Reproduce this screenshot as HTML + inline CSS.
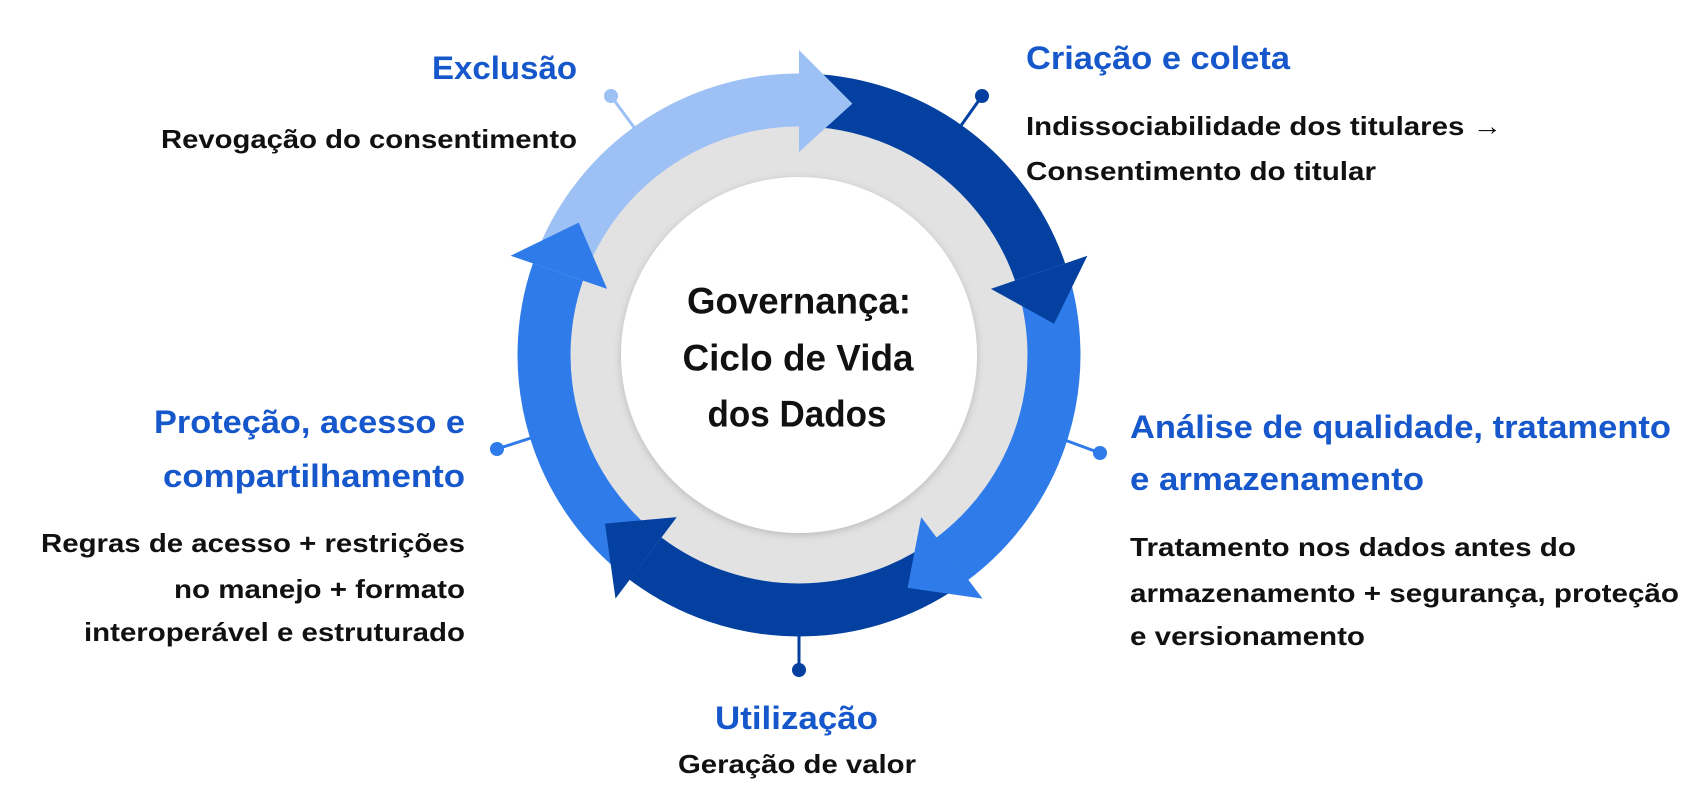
<!DOCTYPE html>
<html><head><meta charset="utf-8"><style>
html,body{margin:0;padding:0;background:#fff;}
svg{display:block;}
text{font-family:"Liberation Sans",Arial,sans-serif;font-weight:bold;}
.h{fill:#1657CB;font-size:32px;}
.b{fill:#111;font-size:26px;}
.c{fill:#111;font-size:37px;}
</style></head><body>
<svg width="1704" height="800" viewBox="0 0 1704 800" xmlns="http://www.w3.org/2000/svg">
<defs>
<filter id="sh" x="-20%" y="-20%" width="140%" height="140%"><feDropShadow dx="0" dy="2" stdDeviation="4" flood-color="#000" flood-opacity="0.18"/></filter>
</defs>
<g stroke-width="3">
<line x1="611" y1="96" x2="636" y2="130" stroke="#9DC0F5"/><circle cx="611" cy="96" r="7" fill="#9DC0F5"/>
<line x1="982" y1="96" x2="960" y2="127" stroke="#0340A0"/><circle cx="982" cy="96" r="7" fill="#0340A0"/>
<line x1="1100" y1="453" x2="1062" y2="439" stroke="#2F7BEA"/><circle cx="1100" cy="453" r="7" fill="#2F7BEA"/>
<line x1="497" y1="449" x2="534" y2="437" stroke="#2F7BEA"/><circle cx="497" cy="449" r="7" fill="#2F7BEA"/>
<line x1="799" y1="630" x2="799" y2="670" stroke="#0340A0"/><circle cx="799" cy="670" r="7" fill="#0340A0"/>
</g>
<circle cx="799" cy="355" r="229" fill="#E2E2E2" filter="url(#sh)"/>
<circle cx="799" cy="355" r="178" fill="#fff" filter="url(#sh)"/>
<g fill="none" stroke-width="53">
<path d="M557.9 272 A255 255 0 0 1 799 100" stroke="#9DC0F5"/>
<path d="M799 100 A255 255 0 0 1 1040.1 272" stroke="#0340A0"/>
<path d="M1040.1 272 A255 255 0 0 1 952.5 558.6" stroke="#2F7BEA"/>
<path d="M952.5 558.6 A255 255 0 0 1 645.5 558.6" stroke="#0340A0"/>
<path d="M645.5 558.6 A255 255 0 0 1 557.9 272" stroke="#2F7BEA"/>
</g>
<polygon points="799,152 799,50 852.4,103.6" fill="#9DC0F5"/>
<polygon points="990.9,288.9 1087.4,255.7 1054.1,323.7" fill="#0340A0"/>
<polygon points="921.2,517.1 982.5,598.6 907.6,587.9" fill="#2F7BEA"/>
<polygon points="676.8,517.1 615.5,598.6 605,523.6" fill="#0340A0"/>
<polygon points="607.1,288.9 510.6,255.7 578.7,222.6" fill="#2F7BEA"/>
<g class="c" text-anchor="middle" dominant-baseline="central">
<text x="799" y="301" class="c" textLength="224" lengthAdjust="spacingAndGlyphs">Governança:</text>
<text x="798" y="358" class="c" textLength="231" lengthAdjust="spacingAndGlyphs">Ciclo de Vida</text>
<text x="797" y="414" class="c" textLength="179" lengthAdjust="spacingAndGlyphs">dos Dados</text>
</g>
<g dominant-baseline="central">
<text class="h" x="432" y="68" textLength="145" lengthAdjust="spacingAndGlyphs">Exclusão</text>
<text class="b" x="161" y="139" textLength="416" lengthAdjust="spacingAndGlyphs">Revogação do consentimento</text>
<text class="h" x="1026" y="58" textLength="264" lengthAdjust="spacingAndGlyphs">Criação e coleta</text>
<text class="b" x="1026" y="126" textLength="476" lengthAdjust="spacingAndGlyphs">Indissociabilidade dos titulares →</text>
<text class="b" x="1026" y="171" textLength="350" lengthAdjust="spacingAndGlyphs">Consentimento do titular</text>
<text class="h" x="1130" y="427" textLength="541" lengthAdjust="spacingAndGlyphs">Análise de qualidade, tratamento</text>
<text class="h" x="1130" y="479" textLength="294" lengthAdjust="spacingAndGlyphs">e armazenamento</text>
<text class="b" x="1130" y="547" textLength="446" lengthAdjust="spacingAndGlyphs">Tratamento nos dados antes do</text>
<text class="b" x="1130" y="593" textLength="549" lengthAdjust="spacingAndGlyphs">armazenamento + segurança, proteção</text>
<text class="b" x="1130" y="636" textLength="235" lengthAdjust="spacingAndGlyphs">e versionamento</text>
<text class="h" x="715" y="718" textLength="163" lengthAdjust="spacingAndGlyphs">Utilização</text>
<text class="b" x="678" y="764" textLength="238" lengthAdjust="spacingAndGlyphs">Geração de valor</text>
<text class="h" x="154" y="422" textLength="311" lengthAdjust="spacingAndGlyphs">Proteção, acesso e</text>
<text class="h" x="163" y="476" textLength="302" lengthAdjust="spacingAndGlyphs">compartilhamento</text>
<text class="b" x="41" y="543" textLength="424" lengthAdjust="spacingAndGlyphs">Regras de acesso + restrições</text>
<text class="b" x="174" y="589" textLength="291" lengthAdjust="spacingAndGlyphs">no manejo + formato</text>
<text class="b" x="84" y="632" textLength="381" lengthAdjust="spacingAndGlyphs">interoperável e estruturado</text>
</g>
</svg>
</body></html>
